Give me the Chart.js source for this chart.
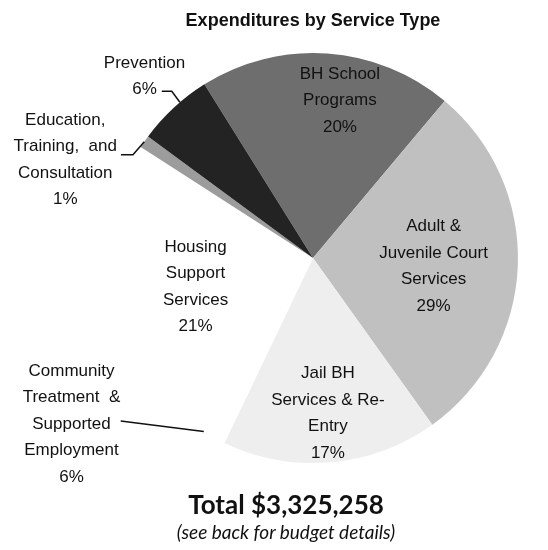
<!DOCTYPE html>
<html>
<head>
<meta charset="utf-8">
<script src="https://cdn.jsdelivr.net/npm/chart.js@4.4.1/dist/chart.umd.min.js"></script>
<style>
  html, body { margin: 0; padding: 0; background: #fff; }
  #wrap { position: relative; width: 548px; height: 550px; overflow: hidden; }
  #c { position: absolute; left: 0; top: 0; }
  .bottom { position: absolute; left: 0; width: 572px; text-align: center; color: #111; white-space: nowrap; }
  #total { top: 489px; font: bold 26px Lato, "Open Sans", sans-serif; line-height: 31px; }
  #note { top: 520px; font: italic 19px Lato, "Open Sans", sans-serif; line-height: 23px; }
</style>
</head>
<body>
<div id="wrap">
  <canvas id="c" width="548" height="550"></canvas>
  <div id="total" class="bottom"></div>
  <div id="note" class="bottom"></div>
</div>
<script>
// ---- data ----
const chartTitle = "Expenditures by Service Type";
const totalText = "Total $3,325,258";
const noteText = "(see back for budget details)";
const categories = [
  "BH School Programs",
  "Adult & Juvenile Court Services",
  "Jail BH Services & Re-Entry",
  "Community Treatment & Supported Employment",
  "Housing Support Services",
  "Education, Training, and Consultation",
  "Prevention"
];
const percentValues = [20, 29, 17, 6, 21, 1, 6];
const labelLines = [
  ["BH School", "Programs"],
  ["Adult &", "Juvenile Court", "Services"],
  ["Jail BH", "Services & Re-", "Entry"],
  ["Community", "Treatment  &", "Supported", "Employment"],
  ["Housing", "Support", "Services"],
  ["Education,", "Training,  and", "Consultation"],
  ["Prevention"]
];

// ---- styling ----
const sliceColors = ["#6e6e6e", "#c0c0c0", "#eeeeee", "#ffffff", "#ffffff", "#9c9c9c", "#232323"];
const LH = 26.5;
const labelStyle = [
  { angle: 5.7, r: 0.78 },
  { angle: 1.8, r: 0.59 },
  { angle: -0.5, r: 0.76 },
  { angle: 19.1, r: 1.43, leader: { line: 2, gap: 10, dy: -3, elbow: 0, edge: -4.2 } },
  { angle: -8.8, r: 0.59 },
  { angle: -13, r: 1.30, leader: { line: 1, gap: 4, dy: 8, elbow: 12, edge: 0 } },
  { angle: 0, r: 1.21, leader: { line: 1, gap: 5, dy: 2, elbow: 10, edge: 2.3 } }
];

document.getElementById('total').textContent = totalText;
document.getElementById('note').textContent = noteText;

const labelPlugin = {
  id: 'sliceLabels',
  afterDatasetsDraw(chart) {
    const ctx = chart.ctx;
    const meta = chart.getDatasetMeta(0);
    ctx.save();
    ctx.font = '17px "Liberation Sans", Arial, sans-serif';
    ctx.fillStyle = '#111';
    ctx.textAlign = 'center';
    ctx.textBaseline = 'middle';
    meta.data.forEach((arc, i) => {
      const p = arc.getProps(['x', 'y', 'startAngle', 'endAngle', 'outerRadius'], true);
      const mid = (p.startAngle + p.endAngle) / 2;
      const s = labelStyle[i];
      const a = mid + s.angle * Math.PI / 180;
      const cx = p.x + Math.cos(a) * p.outerRadius * s.r;
      const cy = p.y + Math.sin(a) * p.outerRadius * s.r;
      const lines = [...labelLines[i], percentValues[i] + '%'];
      const n = lines.length;
      lines.forEach((t, k) => ctx.fillText(t, cx, cy + (k - (n - 1) / 2) * LH));
      if (s.leader) {
        const L = s.leader;
        const w = ctx.measureText(lines[L.line]).width;
        const sx = cx + w / 2 + L.gap;
        const sy = cy + (L.line - (n - 1) / 2) * LH + L.dy;
        const ea = mid + L.edge * Math.PI / 180;
        const ex = p.x + Math.cos(ea) * p.outerRadius;
        const ey = p.y + Math.sin(ea) * p.outerRadius;
        ctx.beginPath();
        ctx.moveTo(sx, sy);
        if (L.elbow) ctx.lineTo(sx + L.elbow, sy);
        ctx.lineTo(ex, ey);
        ctx.lineWidth = 1.5;
        ctx.strokeStyle = '#111';
        ctx.stroke();
      }
    });
    ctx.restore();
  }
};

new Chart(document.getElementById('c'), {
  type: 'pie',
  data: {
    labels: categories,
    datasets: [{
      data: percentValues,
      backgroundColor: sliceColors,
      borderWidth: 0
    }]
  },
  options: {
    responsive: false,
    animation: false,
    rotation: -32,
    layout: { padding: { left: 108, right: 30, top: 0, bottom: 87 } },
    plugins: {
      legend: { display: false },
      tooltip: { enabled: false },
      title: {
        display: true,
        text: chartTitle,
        color: '#111',
        font: { family: '"Liberation Sans", Arial, sans-serif', size: 18, weight: 'bold' },
        padding: { top: 10.5, bottom: 21 }
      }
    }
  },
  plugins: [labelPlugin]
});
</script>
</body>
</html>
